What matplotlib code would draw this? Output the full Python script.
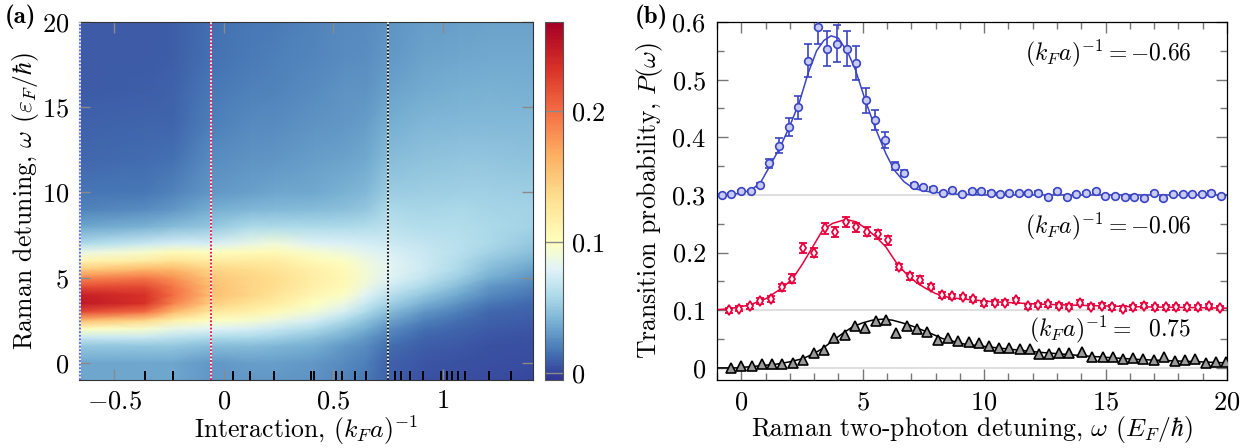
import numpy as np
import matplotlib
matplotlib.use("Agg")
import matplotlib.pyplot as plt
from matplotlib.colors import ListedColormap
from matplotlib.ticker import NullLocator

plt.rcParams["font.family"] = "serif"
plt.rcParams["font.serif"] = ["cmr10"]
plt.rcParams["mathtext.fontset"] = "cm"
plt.rcParams["axes.formatter.use_mathtext"] = True
plt.rcParams["font.size"] = 19

# ---------------- panel (a): heat map, columns at interaction values ----------------
map_x = [-0.66, -0.36, -0.23, -0.06, 0.12, 0.23, 0.41, 0.55, 0.65, 0.75, 0.91, 1.07, 1.21, 1.41]
map_w = [-1, 0, 1, 1.5, 2, 2.5, 3, 3.5, 4, 4.5, 5, 5.5, 6, 6.5, 7, 8, 9, 10, 12, 14, 16, 18, 20]

col_m066 = [0.035, 0.035, 0.05, 0.07, 0.10, 0.16, 0.22, 0.25, 0.245, 0.215, 0.185, 0.145, 0.11, 0.085, 0.06, 0.035, 0.022, 0.017, 0.013, 0.01, 0.008, 0.008, 0.008]
col_m036 = [0.035, 0.035, 0.05, 0.07, 0.095, 0.14, 0.20, 0.232, 0.232, 0.218, 0.195, 0.16, 0.12, 0.095, 0.07, 0.04, 0.025, 0.018, 0.014, 0.011, 0.009, 0.008, 0.008]
col_m023 = [0.035, 0.035, 0.05, 0.065, 0.085, 0.115, 0.16, 0.19, 0.2, 0.195, 0.18, 0.16, 0.13, 0.105, 0.075, 0.045, 0.03, 0.022, 0.016, 0.012, 0.01, 0.009, 0.009]
col_m006 = [0.03, 0.03, 0.045, 0.06, 0.08, 0.1, 0.125, 0.145, 0.155, 0.155, 0.15, 0.14, 0.12, 0.1, 0.075, 0.05, 0.038, 0.03, 0.025, 0.02, 0.018, 0.016, 0.015]
col_p012 = [0.03, 0.032, 0.045, 0.058, 0.075, 0.095, 0.115, 0.13, 0.14, 0.14, 0.14, 0.135, 0.12, 0.105, 0.085, 0.058, 0.042, 0.033, 0.028, 0.024, 0.021, 0.019, 0.018]
col_p023 = [0.03, 0.032, 0.042, 0.055, 0.07, 0.088, 0.105, 0.12, 0.13, 0.135, 0.135, 0.13, 0.12, 0.105, 0.09, 0.06, 0.044, 0.035, 0.029, 0.025, 0.022, 0.02, 0.019]
col_p041 = [0.028, 0.03, 0.038, 0.048, 0.06, 0.075, 0.09, 0.1, 0.11, 0.115, 0.118, 0.115, 0.105, 0.095, 0.08, 0.058, 0.045, 0.036, 0.032, 0.028, 0.025, 0.023, 0.022]
col_p055 = [0.022, 0.024, 0.03, 0.038, 0.048, 0.06, 0.075, 0.088, 0.098, 0.105, 0.108, 0.105, 0.098, 0.088, 0.078, 0.06, 0.047, 0.04, 0.034, 0.03, 0.027, 0.025, 0.024]
col_p065 = [0.018, 0.02, 0.025, 0.03, 0.038, 0.048, 0.058, 0.07, 0.08, 0.088, 0.092, 0.092, 0.088, 0.082, 0.075, 0.062, 0.05, 0.043, 0.036, 0.032, 0.028, 0.026, 0.025]
col_p075 = [0.01, 0.01, 0.015, 0.02, 0.026, 0.035, 0.045, 0.055, 0.065, 0.073, 0.08, 0.082, 0.08, 0.077, 0.072, 0.065, 0.058, 0.052, 0.045, 0.038, 0.034, 0.03, 0.028]
col_p091 = [0.005, 0.006, 0.009, 0.012, 0.016, 0.022, 0.03, 0.04, 0.05, 0.06, 0.068, 0.072, 0.072, 0.07, 0.068, 0.062, 0.057, 0.053, 0.048, 0.042, 0.037, 0.034, 0.032]
col_p107 = [0.004, 0.005, 0.007, 0.009, 0.012, 0.015, 0.02, 0.028, 0.036, 0.045, 0.053, 0.058, 0.062, 0.064, 0.064, 0.062, 0.058, 0.054, 0.049, 0.044, 0.039, 0.035, 0.033]
col_p121 = [0.003, 0.004, 0.005, 0.006, 0.008, 0.01, 0.013, 0.018, 0.024, 0.03, 0.038, 0.045, 0.05, 0.055, 0.058, 0.058, 0.056, 0.054, 0.049, 0.044, 0.04, 0.036, 0.034]
col_p141 = [0.002, 0.003, 0.004, 0.005, 0.006, 0.008, 0.01, 0.013, 0.017, 0.022, 0.028, 0.034, 0.04, 0.046, 0.05, 0.055, 0.055, 0.053, 0.048, 0.043, 0.039, 0.036, 0.034]

# interaction values that were measured (black ticks on the bottom axis)
meas_x = [-0.36, -0.23, -0.06, 0.04, 0.12, 0.23, 0.40, 0.41, 0.51, 0.54, 0.60, 0.65,
          0.75, 0.78, 0.81, 0.85, 0.91, 0.99, 1.02, 1.04, 1.07, 1.10, 1.21, 1.31]
cut_x = [-0.655, -0.06, 0.75]

a_xticks = [-0.5, 0, 0.5, 1]
a_xlabels = ["$-0.5$", "$0$", "$0.5$", "$1$"]
a_yticks = [0, 5, 10, 15, 20]
cbar_ticks = [0, 0.1, 0.2]
cbar_labels = ["$0$", "$0.1$", "$0.2$"]

# ---------------- panel (b): spectra at three interaction values ----------------
blue_w = [-0.79, -0.41, -0.03, 0.38, 0.78, 1.16, 1.56, 1.96, 2.35, 2.75, 3.15, 3.54, 3.94, 4.34,
          4.72, 5.12, 5.51, 5.91, 6.31, 6.70, 7.10, 7.50, 7.89, 8.29, 8.69, 9.08, 9.48, 9.88,
          10.27, 10.67, 11.04, 11.44, 11.82, 12.23, 12.61, 13.01, 13.41, 13.80, 14.20, 14.60,
          14.99, 15.39, 15.79, 16.18, 16.58, 16.98, 17.37, 17.77, 18.17, 18.56, 18.96, 19.36, 19.75]
blue_p = [0.300, 0.302, 0.307, 0.307, 0.317, 0.355, 0.385, 0.418, 0.452, 0.533, 0.591, 0.554,
          0.562, 0.554, 0.529, 0.464, 0.430, 0.396, 0.351, 0.338, 0.317, 0.314, 0.311, 0.303,
          0.309, 0.302, 0.307, 0.307, 0.304, 0.302, 0.303, 0.303, 0.303, 0.304, 0.296, 0.306,
          0.296, 0.302, 0.303, 0.306, 0.298, 0.298, 0.297, 0.296, 0.294, 0.303, 0.294, 0.302,
          0.302, 0.302, 0.302, 0.304, 0.298]
blue_err = [0.002, 0.002, 0.002, 0.002, 0.003, 0.008, 0.013, 0.016, 0.020, 0.029, 0.030, 0.031,
            0.032, 0.031, 0.029, 0.021, 0.017, 0.014, 0.007, 0.006, 0.003, 0.002, 0.002, 0.002,
            0.002, 0.002, 0.002, 0.002, 0.002, 0.002, 0.002, 0.002, 0.002, 0.002, 0.002, 0.002,
            0.002, 0.002, 0.002, 0.002, 0.002, 0.002, 0.002, 0.002, 0.002, 0.002, 0.002, 0.002,
            0.002, 0.002, 0.002, 0.002, 0.002]
blue_fit_w = [-1.0, -0.4, 0.4, 0.8, 1.2, 1.6, 2.0, 2.4, 2.75, 3.1, 3.4, 3.7, 4.0, 4.4, 4.7, 5.1,
              5.5, 5.95, 6.3, 6.7, 7.1, 7.8, 9.0, 10.0, 20.0]
blue_fit_p = [0.300, 0.300, 0.308, 0.322, 0.352, 0.383, 0.420, 0.462, 0.511, 0.550, 0.568, 0.576,
              0.572, 0.546, 0.517, 0.465, 0.418, 0.372, 0.343, 0.323, 0.311, 0.305, 0.301, 0.300, 0.300]

red_w = [-0.52, -0.09, 0.34, 0.79, 1.23, 1.67, 2.09, 2.56, 2.98, 3.43, 3.86, 4.30, 4.73, 5.17,
         5.61, 6.06, 6.50, 6.93, 7.37, 7.81, 8.25, 8.69, 9.12, 9.56, 10.00, 10.43, 10.87, 11.33,
         11.79, 12.20, 12.65, 13.09, 13.51, 13.96, 14.39, 14.84, 15.28, 15.73, 16.14, 16.59,
         17.03, 17.48, 17.92, 18.35, 18.81, 19.26, 19.70]
red_p = [0.100, 0.103, 0.107, 0.116, 0.120, 0.140, 0.155, 0.208, 0.200, 0.242, 0.236, 0.253,
         0.244, 0.236, 0.232, 0.221, 0.175, 0.159, 0.153, 0.141, 0.126, 0.124, 0.123, 0.119,
         0.112, 0.113, 0.113, 0.117, 0.107, 0.109, 0.110, 0.108, 0.106, 0.113, 0.106, 0.108,
         0.105, 0.103, 0.105, 0.108, 0.105, 0.105, 0.105, 0.105, 0.105, 0.107, 0.104]
red_err = [0.004, 0.004, 0.004, 0.005, 0.005, 0.006, 0.007, 0.008, 0.008, 0.009, 0.009, 0.009,
           0.008, 0.008, 0.008, 0.008, 0.006, 0.006, 0.006, 0.005, 0.005, 0.004, 0.004, 0.004,
           0.004, 0.004, 0.004, 0.004, 0.004, 0.004, 0.004, 0.004, 0.004, 0.004, 0.004, 0.004,
           0.004, 0.004, 0.004, 0.004, 0.004, 0.004, 0.004, 0.004, 0.004, 0.004, 0.004]
red_fit_w = [-1.0, -0.5, 0.34, 1.03, 1.71, 2.12, 2.53, 2.94, 3.35, 3.76, 4.31, 4.72, 5.13, 5.54,
             5.95, 6.36, 6.77, 7.18, 7.59, 8.0, 8.55, 9.23, 10.3, 12.3, 14.4, 16.4, 20.0]
red_fit_p = [0.101, 0.1025, 0.109, 0.1205, 0.1395, 0.155, 0.181, 0.210, 0.239, 0.2507, 0.2576,
             0.2535, 0.242, 0.2275, 0.210, 0.184, 0.164, 0.149, 0.138, 0.129, 0.122, 0.119, 0.115,
             0.1105, 0.108, 0.106, 0.1036]

black_w = [-0.44, 0.0, 0.42, 0.85, 1.27, 1.69, 2.13, 2.56, 2.98, 3.41, 3.83, 4.26, 4.68, 5.10,
           5.53, 5.95, 6.39, 6.81, 7.23, 7.66, 8.08, 8.51, 8.92, 9.37, 9.78, 10.19, 10.63, 11.04,
           11.46, 11.87, 12.27, 12.68, 13.10, 13.51, 14.02, 14.43, 14.88, 15.29, 15.70, 16.12,
           16.55, 16.99, 17.40, 17.85, 18.26, 18.67, 19.12, 19.56, 19.97]
black_p = [0.000, 0.003, 0.003, 0.006, 0.006, 0.006, 0.009, 0.013, 0.025, 0.031, 0.052, 0.057,
           0.072, 0.069, 0.082, 0.083, 0.061, 0.073, 0.068, 0.062, 0.048, 0.052, 0.047, 0.045,
           0.043, 0.038, 0.035, 0.035, 0.032, 0.033, 0.024, 0.024, 0.026, 0.025, 0.027, 0.019,
           0.019, 0.019, 0.015, 0.018, 0.015, 0.013, 0.019, 0.012, 0.013, 0.015, 0.009, 0.011, 0.011]
black_fit_w = [-1.0, -0.21, 0.62, 1.44, 1.98, 2.53, 2.94, 3.35, 3.76, 4.17, 4.58, 4.99, 5.40,
               5.81, 6.22, 6.64, 7.05, 7.46, 7.87, 8.28, 8.82, 9.23, 10.26, 12.3, 14.4, 16.4, 20.0]
black_fit_p = [0.0, 0.0, 0.003, 0.0064, 0.0104, 0.016, 0.0238, 0.0336, 0.047, 0.0597, 0.0712,
               0.078, 0.0828, 0.0845, 0.0828, 0.078, 0.0724, 0.0655, 0.0585, 0.051, 0.045, 0.041,
               0.036, 0.027, 0.020, 0.0145, 0.0087]

baselines = [0.3, 0.1, 0.0]
labels_b = ["$(k_Fa)^{-1} = -0.66$", "$(k_Fa)^{-1} = -0.06$", "$(k_Fa)^{-1} =\\ \\ 0.75$"]
label_pos = [(18.55, 0.546), (18.55, 0.246), (18.5, 0.066)]
b_xticks = [0, 5, 10, 15, 20]
b_yticks = [0, 0.1, 0.2, 0.3, 0.4, 0.5, 0.6]
b_ylabels = ["$0$", "$0.1$", "$0.2$", "$0.3$", "$0.4$", "$0.5$", "$0.6$"]

# colormap: RdYlBu_r with its yellow centre moved to 0.1
vmin, vmax = -0.005, 0.268
f_mid = (0.1 - vmin) / (vmax - vmin)
f = np.linspace(0, 1, 256)
g = np.where(f < f_mid, 0.5 * f / f_mid, 0.5 + 0.5 * (f - f_mid) / (1 - f_mid))
cmap = ListedColormap(plt.get_cmap("RdYlBu_r")(g))

fig = plt.figure(figsize=(12.52, 4.48), dpi=100)
ax_a = fig.add_axes([0.0631, 0.1518, 0.3626, 0.7991])
cax = fig.add_axes([0.4353, 0.1518, 0.0144, 0.7991])
ax_b = fig.add_axes([0.5727, 0.1518, 0.4073, 0.7991])

cols = [col_m066, col_m036, col_m023, col_m006, col_p012, col_p023, col_p041,
        col_p055, col_p065, col_p075, col_p091, col_p107, col_p121, col_p141]
X, Y = np.meshgrid(map_x, map_w)
C = np.array(cols).T
mesh = ax_a.pcolormesh(X, Y, C, shading="gouraud", cmap=cmap, vmin=vmin, vmax=vmax,
                       rasterized=True)

for xv, c in zip(cut_x, ["#5560d8", "#e8003c", "black"]):
    ax_a.axvline(xv, color="white", lw=1.3, zorder=3)
    ax_a.axvline(xv, color=c, lw=1.3, ls=(0, (1, 1)), zorder=4)

ax_a.set_xlim(-0.66, 1.41)
ax_a.set_ylim(-1, 20)
ax_a.set_xticks(a_xticks)
ax_a.set_xticklabels(a_xlabels)
ax_a.set_yticks(a_yticks)
ax_a.set_yticklabels(["$%d$" % v for v in a_yticks])
ax_a.set_xticks(meas_x, minor=True)
ax_a.yaxis.set_minor_locator(NullLocator())
ax_a.tick_params(which="major", direction="in", color="#8a8a8a", length=8, width=1,
                 top=True, right=True, pad=7)
ax_a.tick_params(which="minor", direction="in", color="black", length=6.5, width=1.4,
                 top=False, bottom=True)
ax_a.set_xlabel("Interaction, $(k_Fa)^{-1}$", fontsize=18.5)
ax_a.set_ylabel("Raman detuning, $\\omega$ $(\\varepsilon_F/\\hbar)$", fontsize=18.5)
ax_a.xaxis.set_label_coords(0.5, -0.095)
ax_a.yaxis.set_label_coords(-0.084, 0.5)
for s in ax_a.spines.values():
    s.set_linewidth(0.8)
    s.set_color("#333333")

cb = fig.colorbar(mesh, cax=cax, ticks=cbar_ticks)
cb.ax.set_yticklabels(cbar_labels)
cb.ax.tick_params(direction="in", length=13, color="#8a8a8a", width=1, pad=6)
cb.outline.set_edgecolor("#555555")
cb.outline.set_linewidth(0.8)

# panel (b)
for yb in baselines:
    ax_b.axhline(yb, color="#d9d9d9", lw=1.2, zorder=0)

ax_b.plot(blue_fit_w, blue_fit_p, color="#3a44c4", lw=1.1, zorder=2)
ax_b.plot(red_fit_w, red_fit_p, color="#e8003c", lw=1.1, zorder=2)
ax_b.plot(black_fit_w, black_fit_p, color="black", lw=1.1, zorder=2)

ax_b.errorbar(blue_w, blue_p, yerr=blue_err, fmt="o", ms=5.5, mfc="#c8ccf2", mec="#3a44c4",
              mew=1.2, ecolor="#3a44c4", elinewidth=1.2, capsize=3, capthick=1.2, zorder=3)
ax_b.errorbar(red_w, red_p, yerr=red_err, fmt="d", ms=5.5, mfc="white", mec="#e8003c",
              mew=1.3, ecolor="#e8003c", elinewidth=1.2, capsize=3, capthick=1.2, zorder=3)
ax_b.plot(black_w, black_p, "^", ms=7, mfc="#9a9a9a", mec="black", mew=1.2, zorder=3)

for txt, (tx, ty) in zip(labels_b, label_pos):
    ax_b.text(tx, ty, txt, ha="right", va="center", fontsize=17)

ax_b.set_xlim(-1, 20)
ax_b.set_ylim(-0.021, 0.6)
ax_b.set_xticks(b_xticks)
ax_b.set_xticklabels(["$%d$" % v for v in b_xticks])
ax_b.set_xticks(np.arange(-1, 21, 1), minor=True)
ax_b.set_yticks(b_yticks)
ax_b.set_yticklabels(b_ylabels)
ax_b.set_yticks(np.arange(0.05, 0.6, 0.1), minor=True)
ax_b.tick_params(which="major", direction="in", color="#777777", length=8, width=1,
                 top=True, right=True, pad=8)
ax_b.tick_params(which="minor", direction="in", color="#777777", length=5, width=1,
                 top=True, right=True)
ax_b.set_xlabel("Raman two-photon detuning, $\\omega$ $(E_F/\\hbar)$", fontsize=18.5)
ax_b.set_ylabel("Transition probability, $P(\\omega)$", fontsize=18.5)
ax_b.xaxis.set_label_coords(0.5, -0.095)
ax_b.yaxis.set_label_coords(-0.102, 0.5)
for s in ax_b.spines.values():
    s.set_linewidth(0.9)

fig.text(0.004, 0.99, "(a)", fontfamily="cmb10", fontsize=18, va="top", ha="left")
fig.text(0.507, 0.99, "(b)", fontfamily="cmb10", fontsize=18, va="top", ha="left")

fig.savefig("out.png", dpi=100)
